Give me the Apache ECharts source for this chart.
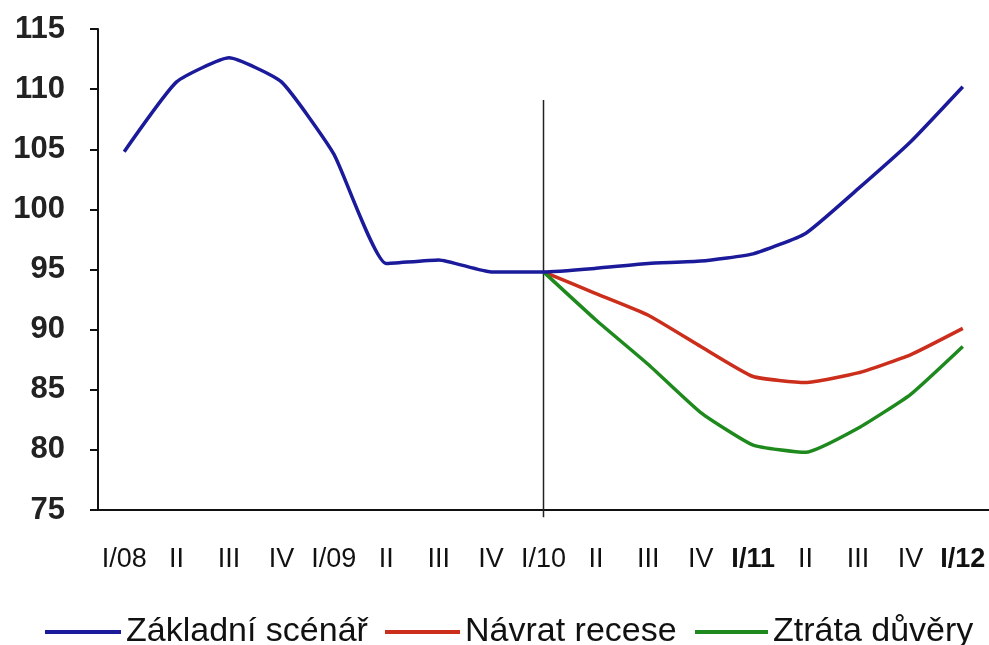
<!DOCTYPE html>
<html>
<head>
<meta charset="utf-8">
<script src="https://cdn.jsdelivr.net/npm/echarts@6/dist/echarts.min.js"></script>
<style>
  html, body { margin: 0; padding: 0; background: #fff; }
  #chart { width: 989px; height: 645px; }
</style>
</head>
<body>
<div id="chart"></div>
<script>
// kvartaly
const quarters = ['I/08', 'II', 'III', 'IV', 'I/09', 'II', 'III', 'IV', 'I/10', 'II', 'III', 'IV', 'I/11', 'II', 'III', 'IV', 'I/12'];
const boldQuarters = [12, 16];

// scenare
const zakladni = [104.8, 110.6, 112.6, 110.6, 104.6, 95.5, 95.8, 94.8, 94.8, 95.1, 95.5, 95.7, 96.3, 98.0, 101.7, 105.6, 110.2];
const navrat = [null, null, null, null, null, null, null, null, 94.8, 93.0, 91.2, 88.6, 86.1, 85.6, 86.4, 87.9, 90.1];
const ztrata = [null, null, null, null, null, null, null, null, 94.8, 90.8, 87.1, 83.1, 80.4, 79.8, 81.8, 84.6, 88.6];

// svisla cara u I/10
const dividerAt = 'I/10';
const dividerTop = 109.1;
const dividerBottom = 74.4;

const chart = echarts.init(document.getElementById('chart'));

const lineW = 3.5;
const smoothness = 0.15;
const colors = { blue: '#1a1a9a', red: '#cc2e1c', green: '#1e8a1e' };

function legendItem(name, left, width) {
    return {
        data: [name],
        left: left,
        top: 610,
        icon: 'rect',
        itemWidth: width,
        itemHeight: 4,
        textStyle: { fontSize: 34, color: '#111' }
    };
}

const option = {
    backgroundColor: '#fff',
    animation: false,
    textStyle: { fontFamily: 'Liberation Sans, Arial, sans-serif' },
    grid: { left: 98, top: 29, width: 891, bottom: 135 },
    legend: [
        legendItem('Základní scénář', 40, 76),
        legendItem('Návrat recese', 380, 75),
        legendItem('Ztráta důvěry', 690, 73)
    ],
    xAxis: {
        type: 'category',
        data: quarters,
        boundaryGap: true,
        axisLine: { lineStyle: { color: '#111', width: 2 } },
        axisTick: { show: false },
        axisLabel: {
            fontSize: 27,
            color: '#111',
            margin: 36,
            interval: 0,
            formatter: function (v, i) {
                return boldQuarters.indexOf(i) >= 0 ? '{b|' + v + '}' : v;
            },
            rich: { b: { fontSize: 27, fontWeight: 'bold', color: '#111' } }
        }
    },
    yAxis: {
        type: 'value',
        min: 75,
        max: 115,
        interval: 5,
        splitLine: { show: false },
        axisLine: { show: true, lineStyle: { color: '#111', width: 2 } },
        axisTick: { show: true, length: 8, lineStyle: { color: '#111', width: 2 } },
        axisLabel: { fontSize: 31, fontWeight: 'bold', color: '#222', margin: 33 }
    },
    series: [
        {
            name: 'divider',
            type: 'line',
            data: [[dividerAt, dividerTop], [dividerAt, dividerBottom]],
            symbol: 'none',
            clip: false,
            silent: true,
            lineStyle: { color: '#222', width: 1.5 },
            z: 1
        },
        {
            name: 'Základní scénář',
            type: 'line',
            data: zakladni,
            smooth: smoothness,
            symbol: 'none',
            lineStyle: { color: colors.blue, width: lineW },
            itemStyle: { color: colors.blue },
            z: 3
        },
        {
            name: 'Návrat recese',
            type: 'line',
            data: navrat,
            smooth: smoothness,
            symbol: 'none',
            lineStyle: { color: colors.red, width: lineW },
            itemStyle: { color: colors.red },
            z: 2
        },
        {
            name: 'Ztráta důvěry',
            type: 'line',
            data: ztrata,
            smooth: smoothness,
            symbol: 'none',
            lineStyle: { color: colors.green, width: lineW },
            itemStyle: { color: colors.green },
            z: 2
        }
    ]
};
chart.setOption(option);
</script>
</body>
</html>
